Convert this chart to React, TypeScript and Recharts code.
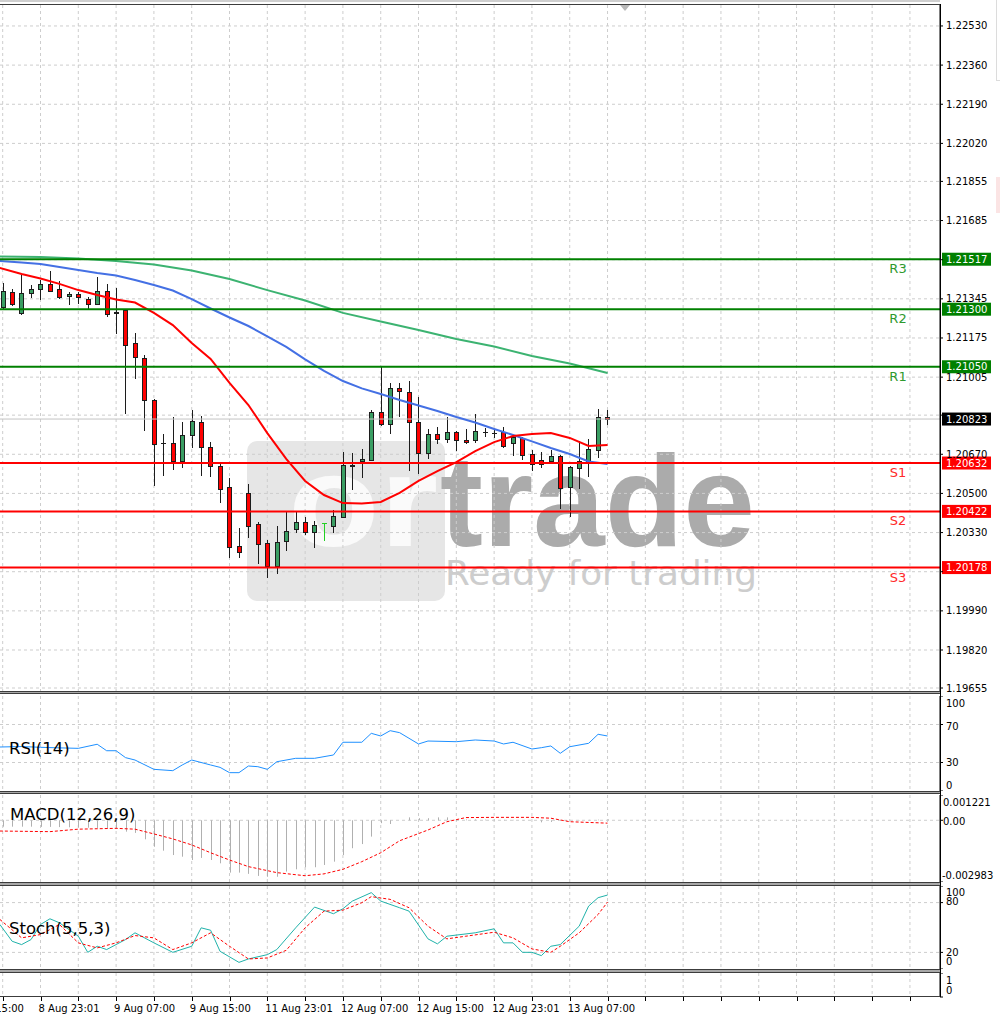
import React from "react";
import {
  ComposedChart,
  Bar,
  Line,
  XAxis,
  YAxis,
  CartesianGrid,
  ReferenceLine,
} from "recharts";

const FONT = "DejaVu Sans";

// hourly candles (index 0 = first visible bar)
const OPEN = [
  1.21308, 1.21376, 1.21282, 1.21369, 1.21387, 1.21408, 1.21387, 1.21357, 1.21366, 1.21344,
  1.21324, 1.2138, 1.21287, 1.21297, 1.21152, 1.21089, 1.20906, 1.20721, 1.2072, 1.2064,
  1.20752, 1.20809, 1.207, 1.20618, 1.20527, 1.20272, 1.20501, 1.20367, 1.20286, 1.20185,
  1.20295, 1.20347, 1.20377, 1.20332, 1.20373, 1.2036, 1.20399, 1.20621, 1.20641, 1.20646,
  1.20855, 1.20802, 1.20957, 1.20942, 1.20809, 1.20674, 1.20757, 1.20735, 1.20768, 1.20732,
  1.20732, 1.20765, 1.20763, 1.20768, 1.20718, 1.20739, 1.2067, 1.20646, 1.20642, 1.20663,
  1.20529, 1.20609, 1.20641, 1.20689, 1.20833,
];
const HIGH = [
  1.21415, 1.21387, 1.21449, 1.21405, 1.21427, 1.21466, 1.21424, 1.21376, 1.21375, 1.21354,
  1.21439, 1.21408, 1.21391, 1.21298, 1.21198, 1.21101, 1.2091, 1.20758, 1.20831, 1.20809,
  1.20862, 1.20838, 1.20722, 1.20628, 1.20566, 1.20349, 1.20541, 1.20376, 1.20298, 1.2036,
  1.20421, 1.20421, 1.20399, 1.20382, 1.20373, 1.20428, 1.20681, 1.20674, 1.20692, 1.20862,
  1.2105, 1.20978, 1.20978, 1.2099, 1.20917, 1.20778, 1.20787, 1.20833, 1.20771, 1.20778,
  1.20844, 1.20783, 1.20775, 1.2079, 1.20754, 1.20746, 1.20689, 1.20681, 1.20689, 1.20666,
  1.20619, 1.20728, 1.20735, 1.20865, 1.20862,
];
const LOW = [
  1.21305, 1.21318, 1.21279, 1.21352, 1.21343, 1.21378, 1.21347, 1.21323, 1.21328, 1.21304,
  1.21321, 1.21272, 1.21195, 1.20851, 1.21, 1.20774, 1.20537, 1.2058, 1.20605, 1.20616,
  1.207, 1.2058, 1.20577, 1.20464, 1.20223, 1.20223, 1.2031, 1.20199, 1.20136, 1.20156,
  1.20254, 1.20332, 1.20324, 1.20269, 1.20298, 1.20333, 1.20396, 1.20519, 1.2057, 1.20644,
  1.20797, 1.20764, 1.20836, 1.20602, 1.2059, 1.20653, 1.20718, 1.20725, 1.20689, 1.20718,
  1.20725, 1.20749, 1.20744, 1.20703, 1.20667, 1.20648, 1.20602, 1.20613, 1.20638, 1.20435,
  1.20402, 1.20525, 1.20576, 1.2066, 1.20802,
];
const CLOSE = [
  1.2138, 1.21323, 1.21372, 1.21387, 1.21408, 1.21381, 1.21354, 1.21366, 1.21352, 1.21324,
  1.2138, 1.21278, 1.21285, 1.21145, 1.21094, 1.20904, 1.20715, 1.20719, 1.20642, 1.20752,
  1.20813, 1.207, 1.20619, 1.20521, 1.20269, 1.20247, 1.2036, 1.2028, 1.20185, 1.2029,
  1.20336, 1.20377, 1.20331, 1.20363, 1.20373, 1.20402, 1.20624, 1.20625, 1.2065, 1.20855,
  1.20802, 1.20957, 1.20945, 1.20812, 1.20674, 1.20758, 1.20735, 1.20768, 1.20732, 1.20722,
  1.20772, 1.20766, 1.20762, 1.20706, 1.20744, 1.20667, 1.20628, 1.20628, 1.20663, 1.20525,
  1.20613, 1.20641, 1.20692, 1.20833, 1.20823,
];

// moving averages (bar index -> price)
const MA_IDX = [
  -0.3, 2, 4, 6, 8, 10, 12, 14, 16, 18, 20, 22, 24, 26, 28, 30, 32,
  34, 36, 38, 40, 42, 44, 46, 48, 50, 52, 54, 56, 58, 60, 62, 64,
];
const MA_RED = [
  1.21479, 1.21453, 1.21433, 1.2141, 1.21383, 1.21362, 1.21342, 1.21329, 1.21284, 1.21231,
  1.21153, 1.21084, 1.2098, 1.20884, 1.20762, 1.2065, 1.20554, 1.20493, 1.20458, 1.20456,
  1.20463, 1.20502, 1.20554, 1.20597, 1.20636, 1.20684, 1.20723, 1.20749, 1.20758, 1.20762,
  1.20741, 1.20706, 1.2071,
];
const MA_BLUE = [
  1.21509, 1.21503, 1.21496, 1.21483, 1.2147, 1.21457, 1.21446, 1.21427, 1.21405, 1.21381,
  1.21344, 1.21303, 1.21264, 1.21227, 1.21182, 1.21136, 1.21082, 1.21032, 1.20988, 1.20956,
  1.20932, 1.20906, 1.20882, 1.20858, 1.20832, 1.20808, 1.2078, 1.20754, 1.20726, 1.20697,
  1.20671, 1.20639, 1.20628,
];
const GREEN_IDX = [-0.3, 4, 8, 12, 16, 20, 24, 28, 32, 36, 40, 44, 48, 52, 56, 60, 64];
const MA_GREEN = [
  1.21529, 1.21527, 1.2152, 1.21509, 1.21494, 1.21468, 1.21431, 1.21383, 1.21338,
  1.21284, 1.21247, 1.2121, 1.21171, 1.21138, 1.21097, 1.21064, 1.21023,
];

// pivot levels
const LEVEL_NAMES = ["R3", "R2", "R1", "S1", "S2", "S3"];
const LEVEL_VALUES = [1.21517, 1.213, 1.2105, 1.20632, 1.20422, 1.20178];
const LAST_PRICE = 1.20823;

// RSI(14)
const RSI_IDX = [
  -0.3, 2, 4, 6, 8, 10, 11, 12, 13, 14, 16, 18, 19, 20, 22, 23, 24, 25, 26, 27, 28, 29, 31,
  33, 35, 36, 38, 39, 40, 41, 42, 44, 45, 48, 50, 52, 53, 54, 56, 57, 58, 59, 60, 62, 63, 64,
];
const RSI_VAL = [
  46.3, 46.8, 46.0, 45.4, 44.9, 49.2, 42.4, 42.4, 35.1, 32.6, 22.8, 21.4, 27.4, 32.6, 27.4,
  24.9, 19.3, 19.3, 26.3, 25.6, 22.8, 30.8, 34.4, 34.4, 37.9, 51.3, 51.3, 60.7, 57.9, 63.5,
  61.4, 49.5, 52.6, 51.9, 53.7, 52.6, 49.5, 51.3, 44.2, 45.6, 47.4, 39.7, 46.6, 50.2, 59.7, 57.9,
];

// MACD(12,26,9): histogram per bar + signal
const MACD_HIST = [
  -0.00031, -0.00031, -0.00031, -0.00031, -0.00032, -0.00032, -0.00033, -0.00034, -0.00035, -0.00036,
  -0.00037, -0.00038, -0.0004, -0.00055, -0.00061, -0.00092, -0.00128, -0.00147, -0.00168, -0.00176,
  -0.00192, -0.00182, -0.00192, -0.00208, -0.00253, -0.00253, -0.00259, -0.00269, -0.00273, -0.00273,
  -0.00248, -0.00237, -0.00227, -0.00227, -0.00216, -0.002, -0.00168, -0.00135, -0.00115, -0.00079,
  -0.00014, -0.00018, 0, 0.00014, 0.0001, 0.0001, 0.00014, 0.00014, 0.00005, 0.00004,
  0.00004, 0.00003, 0.00003, 0.00002, 0.00002, 0.00001, 0, -0.0001, -0.00008, -0.00002,
  0, 0.00001, 0.00002, 0.00003, 0.00004,
];
const SIG_IDX = [
  -0.3, 5, 8, 12, 14, 16, 18, 20, 22, 24, 26, 29, 32, 34, 36, 38, 40, 42, 45, 47, 49, 52, 56, 58, 60, 64,
];
const SIG_VAL = [
  -0.00052, -0.00055, -0.00043, -0.00039, -0.00043, -0.00066, -0.0009, -0.00119, -0.00157,
  -0.00192, -0.00224, -0.00253, -0.00268, -0.00259, -0.00237, -0.002, -0.00157, -0.00099,
  -0.00047, -0.00007, 0.00013, 0.00014, 0.00014, 0.0001, -0.00007, -0.00014,
];

// Stochastic(5,5,3)
const K_IDX = [
  -0.3, 1, 2, 3, 4, 5, 6, 8, 9, 10, 11, 13, 14, 16, 18, 20, 21, 22, 23, 25, 26, 28, 29, 31,
  33, 35, 36, 37, 39, 40, 42, 43, 45, 46, 47, 50, 52, 53, 54, 55, 56, 57, 58, 59, 61, 62, 63, 64,
];
const K_VAL = [
  53.6, 33.4, 29.4, 35.5, 53.6, 60.5, 55.7, 39.5, 20.1, 27.4, 23.4, 35.5, 43.6, 31.5, 20.1,
  27.4, 49.6, 46.7, 21.3, 8.0, 12.1, 17.3, 23.4, 49.6, 74.6, 66.6, 72.6, 81.8, 92.0, 81.8,
  73.8, 69.7, 36.3, 30.3, 39.5, 43.6, 48.4, 31.5, 31.5, 20.1, 20.1, 16.1, 27.4, 29.4, 51.6,
  75.8, 85.9, 89.1,
];
const D_IDX = [
  -0.3, 2, 4, 6, 8, 10, 12, 14, 16, 18, 20, 22, 24, 26, 28, 30, 32, 34, 36, 38, 39, 41, 43,
  45, 47, 49, 52, 54, 56, 58, 59, 61, 63, 64,
];
const D_VAL = [
  59.7, 37.5, 41.5, 53.6, 31.5, 25.4, 31.5, 40.3, 37.5, 23.4, 31.5, 43.6, 27.4, 12.1, 13.3,
  22.5, 49.6, 69.7, 70.9, 79.9, 87.2, 83.9, 73.8, 51.6, 36.3, 39.5, 44.3, 37.5, 24.2, 20.1,
  27.4, 43.6, 65.7, 80.6,
];

// axes
const PRICE_TICKS = [
  1.2253, 1.2236, 1.2219, 1.2202, 1.21855, 1.21685, 1.21515, 1.21345, 1.21175,
  1.21005, 1.2084, 1.2067, 1.205, 1.2033, 1.2016, 1.1999, 1.1982, 1.19655,
];
const TIME_TICKS = [-4, 4, 12, 20, 28, 36, 44, 52, 60];
const TIME_LABELS = [
  "8 Aug 15:00", "8 Aug 23:01", "9 Aug 07:00", "9 Aug 15:00", "11 Aug 23:01",
  "12 Aug 07:00", "12 Aug 15:00", "12 Aug 23:01", "13 Aug 07:00",
];
const GRID_IDX = Array.from({ length: 25 }, (_, k) => k * 4);

const X_DOMAIN = [-0.2857, 99.18];
const PRICE_DOMAIN = [1.19642, 1.22621];
const MACD_DOMAIN = [-0.002983, 0.001221];
const NO_MARGIN = { top: 0, right: 0, bottom: 0, left: 0 };
const GRID = "#cdcdcd";
const BULL = "#3a9e63";
const BEAR = "#ff0000";

type Candle = { i: number; o: number; h: number; l: number; c: number };
const candles: Candle[] = OPEN.map((o, i) => ({ i, o, h: HIGH[i], l: LOW[i], c: CLOSE[i] }));
const pairs = (idx: number[], vals: number[]) => idx.map((i, k) => ({ i, v: vals[k] }));

function CandleShape(props: any) {
  const { x, y, width, height, payload } = props;
  if (!payload || x == null || y == null) return null;
  const { o, h, l, c } = payload as Candle;
  const top = Math.min(y, y + height);
  const span = Math.abs(height);
  const toY = (v: number) => top + (h === l ? 0 : ((h - v) / (h - l)) * span);
  const cx = Math.round(x + width / 2);
  const flat = o === c;
  const ink = flat ? "#22d022" : "#1c1c1c";
  const yo = toY(o);
  const yc = toY(c);
  const bTop = Math.round(Math.min(yo, yc)) + 0.5;
  const bBot = Math.round(Math.max(yo, yc)) + 0.5;
  return (
    <g>
      <line x1={cx + 0.5} x2={cx + 0.5} y1={Math.round(top)} y2={Math.round(top + span) + 1} stroke={ink} strokeWidth={1} />
      {bBot - bTop < 1 ? (
        <line x1={cx - 2} x2={cx + 3} y1={bTop} y2={bTop} stroke={ink} strokeWidth={1} />
      ) : (
        <rect x={cx - 1.5} y={bTop} width={4} height={bBot - bTop} fill={c > o ? BULL : BEAR} stroke="#1c1c1c" strokeWidth={1} />
      )}
    </g>
  );
}

function HistShape(props: any) {
  const { x, y, width, height } = props;
  if (x == null || y == null || !height) return null;
  const cx = Math.round(x + width / 2) + 0.5;
  return <line x1={cx} x2={cx} y1={y} y2={y + height} stroke="#b0b0b0" strokeWidth={1} />;
}

function AxisText({ x, y, text, dy = 0 }: { x: number; y: number; text: string; dy?: number }) {
  return (
    <text x={x} y={y + 3.5 + dy} fontSize={10} fontFamily={FONT} fill="#000">
      {text}
    </text>
  );
}

function PriceTick(props: any) {
  const v = props.payload.value as number;
  const covered = [...LEVEL_VALUES, LAST_PRICE].some((p) => Math.abs(p - v) < 0.0002);
  if (covered) return null;
  return <AxisText x={props.x} y={props.y} text={v.toFixed(5)} />;
}

function TimeTick(props: any) {
  const { x, y, payload } = props;
  const k = TIME_TICKS.indexOf(payload.value);
  const px = Math.round(x) + 0.5;
  return (
    <g>
      <line x1={px} x2={px} y1={y} y2={y + 4} stroke="#000" />
      {k >= 0 && (
        <text x={x - 2} y={y + 15} fontSize={10} fontFamily={FONT} fill="#000">
          {TIME_LABELS[k]}
        </text>
      )}
    </g>
  );
}

const levelLabel = (name: string, value: number, box: string, txt: string) => (props: any) => {
  const vb = props.viewBox || {};
  const y = vb.y;
  const right = vb.x + vb.width;
  return (
    <g>
      {name && (
        <text x={right - 42} y={y + 14} textAnchor="middle" fontSize={13} fontFamily={FONT} fill={txt}>
          {name}
        </text>
      )}
      <rect x={right + 2} y={y - 6.5} width={49} height={13} fill={box} />
      <text x={right + 6} y={y + 3.5} fontSize={10} fontFamily={FONT} fill="#fff">
        {value.toFixed(5)}
      </text>
    </g>
  );
};

const xAxisProps = {
  dataKey: "i",
  type: "number" as const,
  domain: X_DOMAIN,
  allowDataOverflow: true,
  ticks: GRID_IDX,
  interval: 0,
};

const yAxisBase = {
  orientation: "right" as const,
  width: 60,
  type: "number" as const,
  allowDataOverflow: true,
  interval: 0,
  tickSize: 3,
  tickMargin: 3,
  axisLine: { stroke: "#000" },
  tickLine: { stroke: "#000" },
};

export default function App() {
  const redData = pairs(MA_IDX, MA_RED);
  const blueData = pairs(MA_IDX, MA_BLUE);
  const greenData = pairs(GREEN_IDX, MA_GREEN);
  const rsiData = pairs(RSI_IDX, RSI_VAL);
  const histData = MACD_HIST.map((v, i) => ({ i, v }));
  const sigData = pairs(SIG_IDX, SIG_VAL);
  const kData = pairs(K_IDX, K_VAL);
  const dData = pairs(D_IDX, D_VAL);

  const panelLines = [
    [691.5, 693.5],
    [791.5, 793.5],
    [882.5, 885.5],
    [969.5, 972.5],
  ];

  return (
    <div
      style={{
        position: "absolute",
        left: 0,
        top: 0,
        width: 1000,
        height: 1026,
        background: "#fff",
        overflow: "hidden",
        fontFamily: FONT,
      }}
    >
      {/* watermark, behind the chart */}
      <svg width={1000} height={1026} style={{ position: "absolute", left: 0, top: 0, pointerEvents: "none" }}>
        <rect x={247} y={441} width={198} height={160} rx={10} fill="#e6e6e6" />
        <text x={288} y={546} fontSize={129} fontWeight="bold" fontFamily="Liberation Sans" fill="#fafafa" textLength={150} lengthAdjust="spacingAndGlyphs">
          or
        </text>
        <text x={440} y={546} fontSize={129} fontWeight="bold" fontFamily="Liberation Sans" fill="#ababab" textLength={315} lengthAdjust="spacingAndGlyphs">
          trade
        </text>
        <text x={445} y={585} fontSize={33.5} fontFamily={FONT} fill="#cdcdcd" textLength={312} lengthAdjust="spacingAndGlyphs">
          Ready for trading
        </text>
      </svg>

      {/* price window */}
      <div style={{ position: "absolute", left: 0, top: 5 }}>
        <ComposedChart width={1000} height={700} data={candles} margin={{ top: 0, right: 0, bottom: 14, left: 0 }}>
          <CartesianGrid stroke={GRID} strokeDasharray="3 3" verticalValues={GRID_IDX} horizontalValues={PRICE_TICKS} />
          <XAxis {...xAxisProps} hide />
          <YAxis {...yAxisBase} domain={PRICE_DOMAIN} ticks={PRICE_TICKS} tick={(p: any) => <PriceTick {...p} />} />
          <ReferenceLine y={LAST_PRICE} stroke="#c4c4c4" strokeWidth={1} label={levelLabel("", LAST_PRICE, "#000", "#000")} />
          <Bar dataKey={(d: Candle) => [d.l, d.h]} shape={CandleShape} barSize={7} isAnimationActive={false} />
          <Line data={greenData} dataKey="v" type="linear" stroke="#3cb371" strokeWidth={2} dot={false} activeDot={false} isAnimationActive={false} />
          <Line data={blueData} dataKey="v" type="linear" stroke="#4470e4" strokeWidth={2} dot={false} activeDot={false} isAnimationActive={false} />
          <Line data={redData} dataKey="v" type="linear" stroke="#ff0000" strokeWidth={2} dot={false} activeDot={false} isAnimationActive={false} />
          {LEVEL_NAMES.map((name, k) => {
            const res = name.startsWith("R");
            const col = res ? "#008000" : "#ff0000";
            return (
              <ReferenceLine
                key={name}
                y={LEVEL_VALUES[k]}
                stroke={col}
                strokeWidth={2}
                label={levelLabel(name, LEVEL_VALUES[k], col, res ? "#2e9a2e" : "#ff2a2a")}
              />
            );
          })}
        </ComposedChart>
      </div>

      {/* RSI */}
      <div style={{ position: "absolute", left: 0, top: 696 }}>
        <ComposedChart width={1000} height={95} data={rsiData} margin={NO_MARGIN}>
          <CartesianGrid stroke={GRID} strokeDasharray="3 3" verticalValues={GRID_IDX} horizontalValues={[70, 30]} />
          <XAxis {...xAxisProps} hide />
          <YAxis
            {...yAxisBase}
            domain={[0, 100]}
            ticks={[100, 70, 30, 0]}
            tick={(p: any) => {
              const v = p.payload.value;
              const dy = v === 100 ? 7 : v === 0 ? -6 : v === 70 ? 2 : 0;
              return <AxisText x={p.x} y={p.y} text={String(v)} dy={dy} />;
            }}
          />
          <Line dataKey="v" type="linear" stroke="#1e90ff" strokeWidth={1} dot={false} activeDot={false} isAnimationActive={false} />
        </ComposedChart>
      </div>

      {/* MACD */}
      <div style={{ position: "absolute", left: 0, top: 795 }}>
        <ComposedChart width={1000} height={87} data={histData} margin={NO_MARGIN}>
          <CartesianGrid stroke={GRID} strokeDasharray="3 3" verticalValues={GRID_IDX} horizontalValues={[0]} />
          <XAxis {...xAxisProps} hide />
          <YAxis
            {...yAxisBase}
            domain={MACD_DOMAIN}
            ticks={[0.001221, 0, -0.002983]}
            tick={(p: any) => {
              const v = p.payload.value;
              const text = v === 0 ? "0.00" : v > 0 ? "0.001221" : "-0.002983";
              const dy = v === 0 ? 1.5 : v > 0 ? 7 : -7;
              return <AxisText x={p.x - (v < 0 ? 4 : 3)} y={p.y} text={text} dy={dy} />;
            }}
          />
          <Bar dataKey="v" shape={HistShape} barSize={1} isAnimationActive={false} />
          <Line data={sigData} dataKey="v" type="linear" stroke="#ff0000" strokeWidth={1} strokeDasharray="3 2" dot={false} activeDot={false} isAnimationActive={false} />
        </ComposedChart>
      </div>

      {/* Stochastic */}
      <div style={{ position: "absolute", left: 0, top: 886 }}>
        <ComposedChart width={1000} height={83} data={kData} margin={NO_MARGIN}>
          <CartesianGrid stroke={GRID} strokeDasharray="3 3" verticalValues={GRID_IDX} horizontalValues={[80, 20]} />
          <XAxis {...xAxisProps} hide />
          <YAxis
            {...yAxisBase}
            domain={[0, 100]}
            ticks={[100, 80, 20, 0]}
            tick={(p: any) => {
              const v = p.payload.value;
              const dy = v === 100 ? 6 : v === 80 ? -1 : v === 0 ? -8 : 0;
              return <AxisText x={p.x} y={p.y} text={String(v)} dy={dy} />;
            }}
          />
          <Line dataKey="v" type="linear" stroke="#20b2aa" strokeWidth={1} dot={false} activeDot={false} isAnimationActive={false} />
          <Line data={dData} dataKey="v" type="linear" stroke="#ff0000" strokeWidth={1} strokeDasharray="3 2" dot={false} activeDot={false} isAnimationActive={false} />
        </ComposedChart>
      </div>

      {/* empty window + time axis */}
      <div style={{ position: "absolute", left: 0, top: 973 }}>
        <ComposedChart width={1000} height={53} data={candles} margin={NO_MARGIN}>
          <CartesianGrid stroke={GRID} strokeDasharray="3 3" verticalValues={GRID_IDX} horizontal={false} />
          <XAxis
            {...xAxisProps}
            ticks={[-4, ...GRID_IDX]}
            height={29}
            axisLine={false}
            tickLine={false}
            tickSize={0}
            tickMargin={0}
            tick={(p: any) => <TimeTick {...p} />}
          />
          <YAxis
            {...yAxisBase}
            domain={[0, 1]}
            ticks={[1, 0]}
            tick={(p: any) => {
              const v = p.payload.value;
              return <AxisText x={p.x} y={p.y} text={String(v)} dy={v === 1 ? 7 : -7} />;
            }}
          />
        </ComposedChart>
      </div>

      {/* window frame */}
      <svg width={1000} height={1026} style={{ position: "absolute", left: 0, top: 0, pointerEvents: "none" }}>
        <rect x={0} y={0} width={940} height={2} fill="#cfcfcf" />
        <line x1={0} x2={940} y1={4.5} y2={4.5} stroke="#3c3c3c" />
        {panelLines.map(([a, b], k) => (
          <g key={k}>
            <rect x={0} y={a} width={940} height={b - a} fill="#a8a8a8" />
            <line x1={0} x2={940} y1={a} y2={a} stroke="#3c3c3c" />
            <line x1={0} x2={940} y1={b} y2={b} stroke="#3c3c3c" />
          </g>
        ))}
        <line x1={0} x2={940} y1={996.5} y2={996.5} stroke="#3c3c3c" />
        <line x1={940.5} x2={940.5} y1={4} y2={997} stroke="#000" />
        <polygon points="620,5 630,5 625,11" fill="#b8b8b8" />
        <line x1={996.5} x2={996.5} y1={0} y2={80} stroke="#dcdcdc" />
        <line x1={996} x2={1000} y1={80.5} y2={80.5} stroke="#dcdcdc" />
        <rect x={996} y={177} width={4} height={36} fill="#fbe4e4" />
        <text x={9} y={754} fontSize={16.5} fontFamily={FONT} fill="#000">RSI(14)</text>
        <text x={10} y={820} fontSize={16.5} fontFamily={FONT} fill="#000">MACD(12,26,9)</text>
        <text x={9} y={934} fontSize={16.5} fontFamily={FONT} fill="#000">Stoch(5,5,3)</text>
      </svg>
    </div>
  );
}
